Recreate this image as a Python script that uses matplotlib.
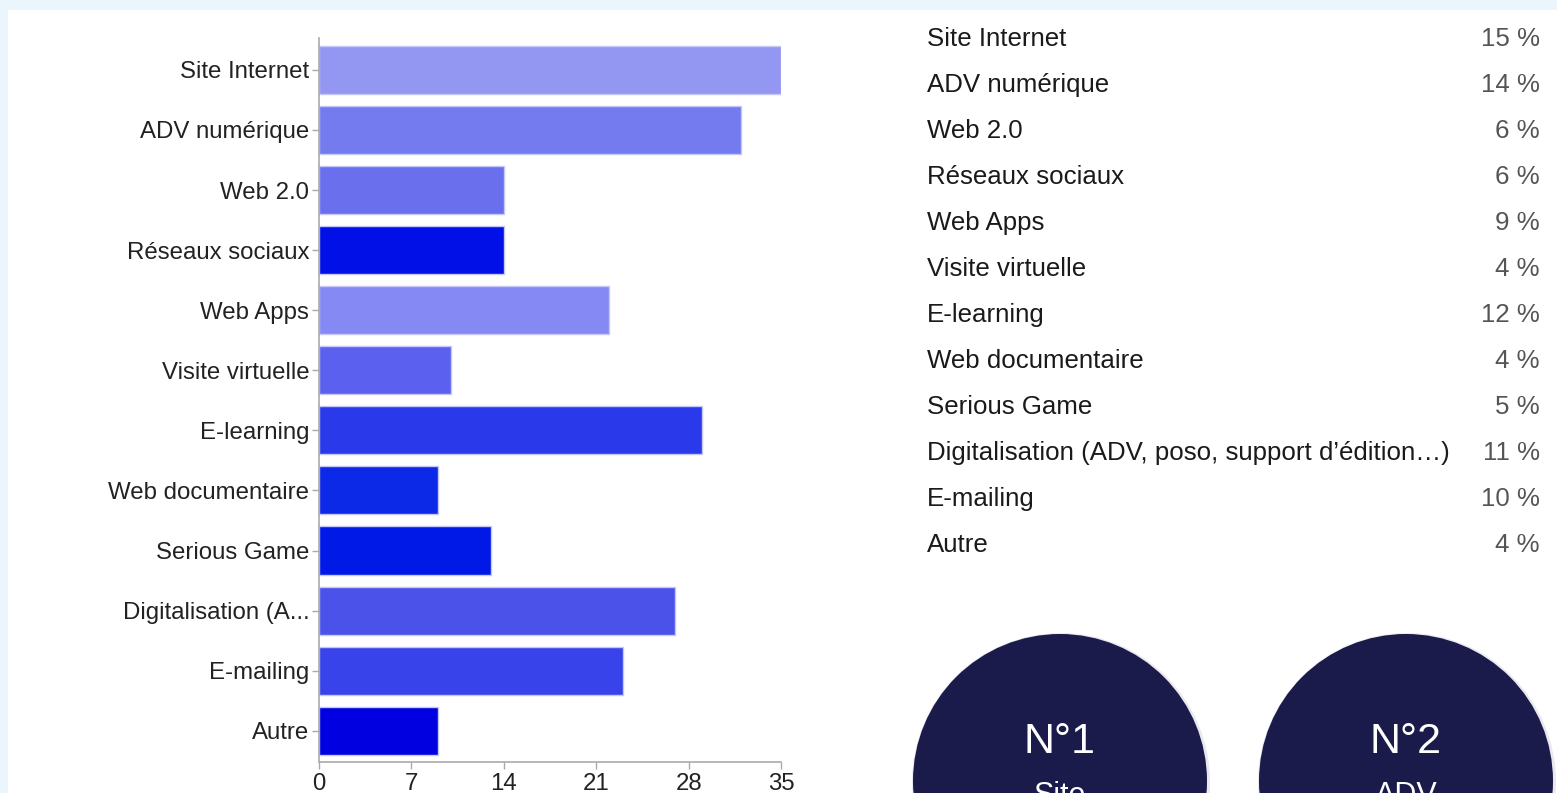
import matplotlib
matplotlib.use("Agg")
import matplotlib.pyplot as plt
from matplotlib.patches import Rectangle, Circle

plt.rcParams['font.family'] = ['Liberation Sans', 'DejaVu Sans']

# Data
categories = ["Site Internet", "ADV numérique", "Web 2.0", "Réseaux sociaux",
              "Web Apps", "Visite virtuelle", "E-learning", "Web documentaire",
              "Serious Game", "Digitalisation (A...", "E-mailing", "Autre"]
list_labels = ["Site Internet", "ADV numérique", "Web 2.0", "Réseaux sociaux",
               "Web Apps", "Visite virtuelle", "E-learning", "Web documentaire",
               "Serious Game", "Digitalisation (ADV, poso, support d’édition…)",
               "E-mailing", "Autre"]
counts = [35, 32, 14, 14, 22, 10, 29, 9, 13, 27, 23, 9]
percents = ["15 %", "14 %", "6 %", "6 %", "9 %", "4 %", "12 %", "4 %",
            "5 %", "11 %", "10 %", "4 %"]
bar_colors = ["#9497f2", "#737bee", "#6a6fed", "#0010e6", "#8589f4", "#5b61ee",
              "#2a3aea", "#0b29e6", "#0019e6", "#4a52ea", "#3843ea", "#0000e0"]
xticks = [0, 7, 14, 21, 28, 35]
badges = [("N°1", "Site"), ("N°2", "ADV")]

W, H = 1557, 793
fig = plt.figure(figsize=(W / 100, H / 100), dpi=100)
fig.patch.set_facecolor("white")
# light blue frame strips (top and left)
fig.patches.append(Rectangle((0, 1 - 10 / H), 1, 10 / H, transform=fig.transFigure,
                             facecolor="#eaf5fc", edgecolor="none", zorder=-5))
fig.patches.append(Rectangle((0, 0), 8 / W, 1, transform=fig.transFigure,
                             facecolor="#eaf5fc", edgecolor="none", zorder=-5))

# Bar chart
ax = fig.add_axes([319 / W, 31 / H, 462 / W, 724 / H])
ax.patch.set_alpha(0)
ax.barh(range(len(categories)), counts, height=0.8, color=bar_colors,
        edgecolor="#c4c7f7", linewidth=1)
ax.set_xlim(0, 35)
ax.set_ylim(len(categories) - 0.48, -0.53)
ax.set_yticks(range(len(categories)))
ax.set_yticklabels(categories, fontsize=17.3, color="#222222")
ax.set_xticks(xticks)
ax.set_xticklabels([str(t) for t in xticks], fontsize=17.3, color="#222222")
for s in ["top", "right"]:
    ax.spines[s].set_visible(False)
for s in ["left", "bottom"]:
    ax.spines[s].set_color("#aaaaaa")
    ax.spines[s].set_linewidth(1.2)
ax.tick_params(axis="both", colors="#aaaaaa", length=5, width=1, labelcolor="#222222")
ax.tick_params(axis="y", pad=2)
ax.tick_params(axis="x", pad=3)

# Overlay in pixel coordinates for the list and badges
ov = fig.add_axes([0, 0, 1, 1])
ov.set_xlim(0, W)
ov.set_ylim(H, 0)
ov.axis("off")
ov.patch.set_alpha(0)

for i, (lab, pct) in enumerate(zip(list_labels, percents)):
    y = 39 + 46 * i
    ov.text(927, y, lab, fontsize=18.6, color="#1a1a1a", va="center", ha="left")
    ov.text(1540, y, pct, fontsize=18.6, color="#555555", va="center", ha="right")

for j, (num, word) in enumerate(badges):
    cx = 1060 + 346 * j
    ov.add_patch(Circle((cx + 1, 782), 149, facecolor="#e8e8ee", edgecolor="none", zorder=1))
    ov.add_patch(Circle((cx, 781), 147, facecolor="#1b1b4b", edgecolor="none", zorder=2))
    ov.text(cx, 742, num, fontsize=31, color="white", ha="center", va="center", zorder=3)
    ov.text(cx, 796, word, fontsize=22, color="white", ha="center", va="center", zorder=3)

fig.savefig("out.png", dpi=100, facecolor=fig.get_facecolor())
